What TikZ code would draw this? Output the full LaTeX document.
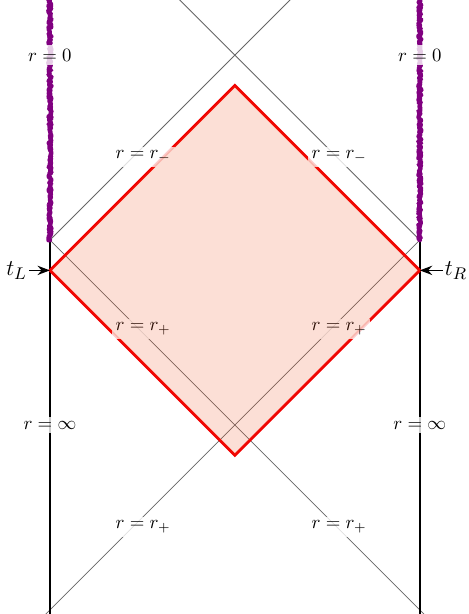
\documentclass[tikz,border=0pt]{standalone}
\usepackage{amsmath}
\usepackage{tikz}
\usetikzlibrary{arrows.meta, decorations.pathmorphing}
\definecolor{singcol}{RGB}{128,0,128}
\definecolor{edgered}{RGB}{240,0,0}
\definecolor{wedgefill}{RGB}{240,80,30}
\tikzset{
  horizon/.style={thin, color=black!60},
  boundary/.style={very thick, color=black},
  singular/.style={color=singcol, line width=2.4pt, line join=round, line cap=round, decorate,
    decoration={random steps, segment length=0.5pt, amplitude=0.8pt}},
  wedge/.style={draw=edgered, line width=1.5pt, line join=miter},
  tag/.style={fill=white, fill opacity=0.8, text opacity=1, inner sep=2pt},
  tlabel/.style={font=\fontsize{13}{15}\selectfont, inner sep=1pt},
  arrow/.style={-Stealth, thick, color=black}
}

\begin{document}
\begin{tikzpicture}[x=0.692cm, y=0.692cm]
    \useasboundingbox (-1.35,-0.11) rectangle (11.32,16.49);
    \clip (-1.35,-0.11) rectangle (11.32,16.49);

    % Corners of the diagram
    \coordinate (BL) at (0,-0.3);
    \coordinate (BR) at (10,-0.3);
    \coordinate (ML) at (0,10);
    \coordinate (MR) at (10,10);
    \coordinate (TL) at (0,16.8);
    \coordinate (TR) at (10,16.8);
    \coordinate (UL) at (3.2,16.8);
    \coordinate (UR) at (6.8,16.8);
    \coordinate (DL) at (-0.3,-0.3);
    \coordinate (DR) at (10.3,-0.3);

    % Wedge corners
    \coordinate (L) at (0,9.18);
    \coordinate (T) at (5,14.18);
    \coordinate (R) at (10,9.18);
    \coordinate (B) at (5,4.18);

    % Horizons
    \draw[horizon] (DL) -- (MR) -- (UL);
    \draw[horizon] (DR) -- (ML) -- (UR);

    % Boundaries
    \draw[boundary] (BL) -- (ML);
    \draw[boundary] (BR) -- (MR);
    \draw[wedge] (L) -- (T) -- (R) -- (B) -- cycle;

    % Singularities
    \draw[singular] (ML) -- (TL);
    \draw[singular] (MR) -- (TR);

    % Times
    \node[tlabel] (tL) at (-0.9,9.18) {$t_L$};
    \node[tlabel] (tR) at (10.98,9.18) {$t_R$};
    \draw[arrow] (tL) -- (L);
    \draw[arrow] (tR) -- (R);

    % Labels
    \node[tag] (zeroL) at (0,15) {$r=0$};
    \node[tag] (zeroR) at (10,15) {$r=0$};
    \node[tag] (innL) at (2.52,12.25) {$r=r_-$};
    \node[tag] (innR) at (7.82,12.25) {$r=r_-$};
    \node[tag] (outL) at (2.52,7.6) {$r=r_+$};
    \node[tag] (outR) at (7.82,7.6) {$r=r_+$};
    \node[tag] (infL) at (0,5) {$r=\infty$};
    \node[tag] (infR) at (10,5) {$r=\infty$};
    \node[tag] (botL) at (2.52,2.25) {$r=r_+$};
    \node[tag] (botR) at (7.82,2.25) {$r=r_+$};

    % Shaded wedge
    \fill[wedgefill, fill opacity=0.18] (L) -- (T) -- (R) -- (B) -- cycle;
\end{tikzpicture}
\end{document}
